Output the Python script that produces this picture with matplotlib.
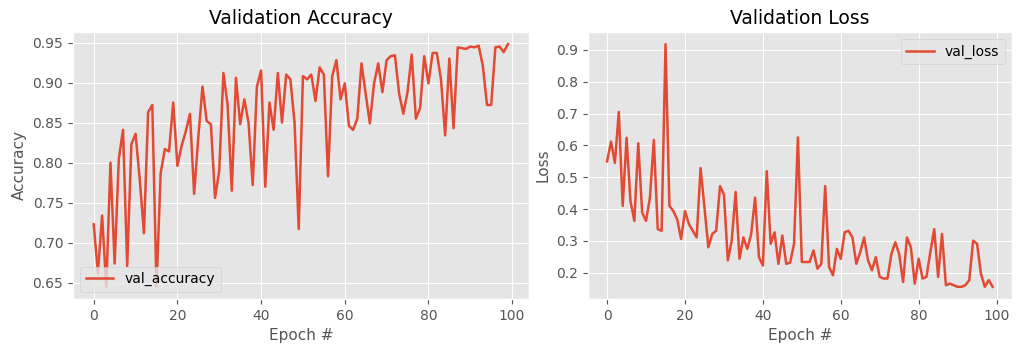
import matplotlib
matplotlib.use("Agg")
import matplotlib.pyplot as plt

plt.style.use("ggplot")

epochs = list(range(100))

val_accuracy = [
    0.723, 0.662, 0.734, 0.645, 0.800, 0.674, 0.805, 0.841, 0.671, 0.823,
    0.836, 0.779, 0.712, 0.863, 0.872, 0.645, 0.787, 0.817, 0.814, 0.875,
    0.796, 0.821, 0.839, 0.861, 0.761, 0.832, 0.895, 0.852, 0.848, 0.756,
    0.790, 0.912, 0.872, 0.765, 0.906, 0.848, 0.879, 0.850, 0.772, 0.895,
    0.915, 0.770, 0.875, 0.841, 0.912, 0.850, 0.910, 0.904, 0.850, 0.717,
    0.908, 0.904, 0.910, 0.877, 0.919, 0.910, 0.783, 0.908, 0.928, 0.879,
    0.899, 0.846, 0.841, 0.855, 0.924, 0.886, 0.849, 0.899, 0.924, 0.888,
    0.928, 0.933, 0.934, 0.886, 0.861, 0.888, 0.935, 0.855, 0.868, 0.933,
    0.899, 0.937, 0.937, 0.904, 0.834, 0.930, 0.843, 0.944, 0.943, 0.942,
    0.945, 0.944, 0.946, 0.921, 0.872, 0.872, 0.944, 0.945, 0.938, 0.948,
]

val_loss = [
    0.550, 0.612, 0.545, 0.705, 0.410, 0.624, 0.425, 0.363, 0.607, 0.389,
    0.363, 0.436, 0.617, 0.337, 0.332, 0.918, 0.410, 0.394, 0.368, 0.306,
    0.394, 0.353, 0.332, 0.311, 0.529, 0.405, 0.280, 0.322, 0.332, 0.472,
    0.446, 0.239, 0.301, 0.454, 0.244, 0.311, 0.275, 0.322, 0.436, 0.249,
    0.223, 0.519, 0.291, 0.327, 0.228, 0.317, 0.228, 0.232, 0.290, 0.625,
    0.234, 0.234, 0.234, 0.270, 0.213, 0.228, 0.472, 0.218, 0.192, 0.275,
    0.244, 0.327, 0.332, 0.311, 0.228, 0.265, 0.311, 0.239, 0.208, 0.249,
    0.187, 0.182, 0.182, 0.259, 0.296, 0.259, 0.171, 0.311, 0.280, 0.166,
    0.244, 0.182, 0.187, 0.265, 0.337, 0.187, 0.322, 0.161, 0.166, 0.161,
    0.156, 0.156, 0.161, 0.177, 0.301, 0.291, 0.197, 0.156, 0.177, 0.156,
]

fig = plt.figure(figsize=(10.17, 3.44), dpi=100)
ax1 = fig.add_axes([0.0718, 0.131, 0.448, 0.776])
ax2 = fig.add_axes([0.578, 0.131, 0.417, 0.776])

ax1.plot(epochs, val_accuracy, label="val_accuracy", linewidth=1.8)
ax1.set_title("Validation Accuracy", fontsize=13.5)
ax1.set_xlabel("Epoch #", fontsize=11)
ax1.set_ylabel("Accuracy", fontsize=11)
ax1.legend(loc="lower left", fontsize=10)

ax2.plot(epochs, val_loss, label="val_loss", linewidth=1.8)
ax2.set_title("Validation Loss", fontsize=13.5)
ax2.set_xlabel("Epoch #", fontsize=11)
ax2.set_ylabel("Loss", fontsize=11)
ax2.legend(loc="upper right", fontsize=10)

for ax in (ax1, ax2):
    ax.tick_params(labelsize=10)

fig.savefig("out.png", dpi=100)
